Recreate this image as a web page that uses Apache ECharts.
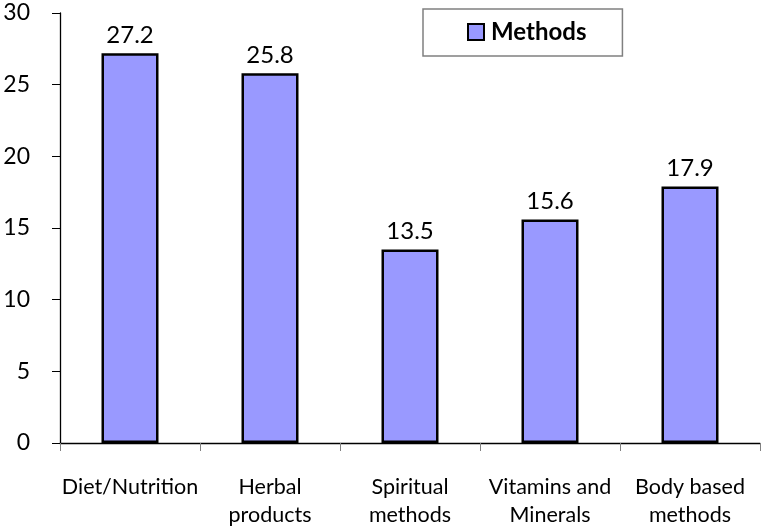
<!DOCTYPE html>
<html><head><meta charset="utf-8">
<script src="https://cdn.jsdelivr.net/npm/echarts@6/dist/echarts.min.js"></script>
<style>html,body{margin:0;padding:0;background:#fff}#c{width:764px;height:529px}</style>
</head><body><div id="c"></div>
<script>
const categories = ['Diet/Nutrition', 'Herbal\nproducts', 'Spiritual\nmethods', 'Vitamins and\nMinerals', 'Body based\nmethods'];
const methods = [27.2, 25.8, 13.5, 15.6, 17.9];
const yTicks = [0, 5, 10, 15, 20, 25, 30];
const font = 'Lato, "Open Sans", sans-serif';
const chart = echarts.init(document.getElementById('c'));
chart.setOption({
  animation: false,
  backgroundColor: '#fff',
  grid: {left: 60, right: 4, top: 13, bottom: 86, containLabel: false},
  legend: {
    data: ['Methods'], left: 423, top: 9,
    padding: [11, 36, 12, 44],
    borderColor: '#808080', borderWidth: 1.5,
    icon: 'rect',
    itemWidth: 16, itemHeight: 16, itemGap: 6,
    textStyle: {fontFamily: font, fontSize: 24, fontWeight: 'bold', color: '#000', padding: [0, 0, 0, 2]}
  },
  xAxis: {
    type: 'category', data: categories,
    axisLine: {lineStyle: {color: '#000', width: 1.3}},
    axisTick: {show: true, length: 8, alignWithLabel: false, lineStyle: {color: '#808080'}},
    axisLabel: {fontFamily: font, fontSize: 21.5, color: '#000', margin: 30, lineHeight: 28, interval: 0}
  },
  yAxis: {
    type: 'value', min: 0, max: 30, interval: 5,
    axisLine: {show: true, lineStyle: {color: '#000', width: 1.3}},
    axisTick: {show: true, length: 8, lineStyle: {color: '#000'}},
    splitLine: {show: false},
    axisLabel: {fontFamily: font, fontSize: 23, color: '#000', margin: 30,
      formatter: v => yTicks.includes(v) ? String(v) : ''}
  },
  series: [{
    name: 'Methods', type: 'bar', data: methods, barWidth: 57,
    itemStyle: {color: '#9999FF', borderColor: '#000', borderWidth: 2.5},
    label: {show: true, position: 'top', distance: 6, fontFamily: font, fontSize: 24, color: '#000',
      formatter: p => p.value.toFixed(1)}
  }]
});
</script></body></html>
